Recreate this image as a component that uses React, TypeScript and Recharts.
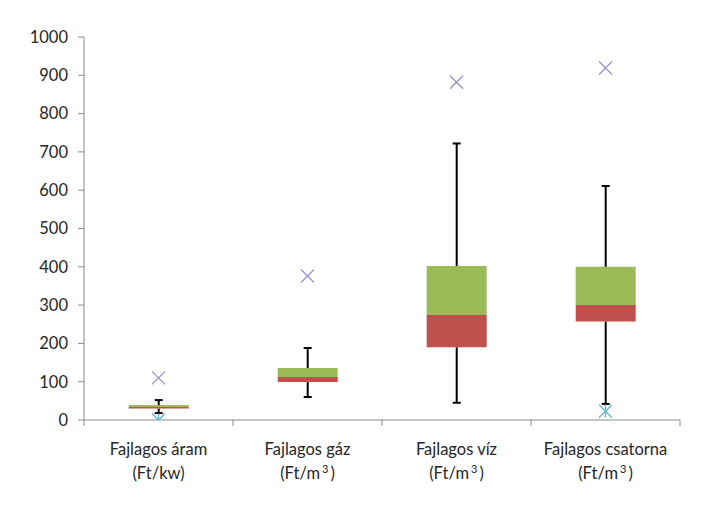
import { Bar, ComposedChart, Scatter, XAxis, YAxis } from 'recharts';

const categories = ['Fajlagos áram', 'Fajlagos gáz', 'Fajlagos víz', 'Fajlagos csatorna'];
const units = ['(Ft/kw)', '(Ft/m³)', '(Ft/m³)', '(Ft/m³)'];
const whiskerLow = [18, 60, 45, 42];
const quartile1 = [30, 99, 190, 257];
const median = [34, 112, 274, 300];
const quartile3 = [39, 136, 402, 400];
const whiskerHigh = [52, 188, 722, 611];
const maximum = [110, 376, 882, 919];
const minimum: (number | null)[] = [0, null, null, 23];
const yTicks = [0, 100, 200, 300, 400, 500, 600, 700, 800, 900, 1000];

const chartData = categories.map((name, i) => ({
  name,
  unit: units[i],
  base: whiskerLow[i],
  lowWhisker: quartile1[i] - whiskerLow[i],
  lower: median[i] - quartile1[i],
  upper: quartile3[i] - median[i],
  highWhisker: whiskerHigh[i] - quartile3[i],
  max: maximum[i],
  min: minimum[i],
}));

const FONT = 'Lato, "Open Sans", sans-serif';
const FS = 16.5;

const Whisker = ({ x, y, width, height, capAt }: any) => {
  const cx = x + width / 2;
  const capY = capAt === 'top' ? y : y + height;
  return (
    <g>
      <line x1={cx} x2={cx} y1={y} y2={y + height} stroke="#000" strokeWidth={2} />
      <line x1={cx - 4} x2={cx + 4} y1={capY} y2={capY} stroke="#000" strokeWidth={2} />
    </g>
  );
};

const Cross = ({ cx, cy, payload }: any) => {
  if (payload?.max == null || !Number.isFinite(cy)) return <g />;
  const s = 6.5;
  return (
    <g stroke="#9a8fcb" strokeWidth={1.3}>
      <line x1={cx - s} y1={cy - s} x2={cx + s} y2={cy + s} />
      <line x1={cx - s} y1={cy + s} x2={cx + s} y2={cy - s} />
    </g>
  );
};

const Star = ({ cx, cy, payload }: any) => {
  if (payload?.min == null || !Number.isFinite(cy)) return <g />;
  const s = 6.5;
  return (
    <g stroke="#5ab8d0" strokeWidth={1.3}>
      <line x1={cx - s} y1={cy - s} x2={cx + s} y2={cy + s} />
      <line x1={cx - s} y1={cy + s} x2={cx + s} y2={cy - s} />
      <line x1={cx} y1={cy - s} x2={cx} y2={cy + s} />
    </g>
  );
};

const CategoryTick = ({ x, y, payload, index, width, visibleTicksCount }: any) => {
  const band = width / visibleTicksCount;
  const unit: string = units[index] ?? '';
  const supAt = unit.indexOf('³');
  return (
    <g>
      {index === 0 && (
        <line x1={x - band / 2} x2={x - band / 2} y1={y} y2={y + 6} stroke="#8c8c8c" />
      )}
      <line x1={x + band / 2} x2={x + band / 2} y1={y} y2={y + 6} stroke="#8c8c8c" />
      <text x={x} y={y + 35} textAnchor="middle" fill="#262626" fontSize={FS} fontFamily={FONT}>
        {payload.value}
      </text>
      <text x={x} y={y + 59} textAnchor="middle" fill="#262626" fontSize={FS} fontFamily={FONT}>
        {supAt < 0 ? (
          unit
        ) : (
          <>
            <tspan>{unit.slice(0, supAt)}</tspan>
            <tspan dx={2} dy={-6} fontSize={11}>3</tspan>
            <tspan dx={2} dy={6}>{unit.slice(supAt + 1)}</tspan>
          </>
        )}
      </text>
    </g>
  );
};

export default function App() {
  return (
    <div style={{ width: 710, height: 507, background: '#fff' }}>
      <style>{'body{margin:0}'}</style>
      <ComposedChart
        width={710}
        height={507}
        data={chartData}
        margin={{ top: 37, right: 30, bottom: 27, left: 24 }}
        barCategoryGap="30%"
      >
        <XAxis
          dataKey="name"
          axisLine={{ stroke: '#8c8c8c' }}
          tickLine={false}
          tickSize={0}
          tickMargin={0}
          height={60}
          interval={0}
          tick={<CategoryTick />}
        />
        <YAxis
          domain={[0, 1000]}
          ticks={yTicks}
          width={60}
          axisLine={{ stroke: '#8c8c8c' }}
          tickLine={{ stroke: '#8c8c8c' }}
          tickSize={6}
          tickMargin={10}
          tick={{ fill: '#262626', fontSize: FS, fontFamily: FONT }}
          allowDataOverflow
        />
        <Bar dataKey="base" stackId="box" fill="transparent" isAnimationActive={false} />
        <Bar
          dataKey="lowWhisker"
          stackId="box"
          isAnimationActive={false}
          shape={(p: any) => <Whisker {...p} capAt="bottom" />}
        />
        <Bar dataKey="lower" stackId="box" fill="#c0504d" isAnimationActive={false} />
        <Bar dataKey="upper" stackId="box" fill="#9bbb59" isAnimationActive={false} />
        <Bar
          dataKey="highWhisker"
          stackId="box"
          isAnimationActive={false}
          shape={(p: any) => <Whisker {...p} capAt="top" />}
        />
        <Scatter dataKey="max" shape={<Cross />} isAnimationActive={false} />
        <Scatter dataKey="min" shape={<Star />} isAnimationActive={false} />
      </ComposedChart>
    </div>
  );
}
